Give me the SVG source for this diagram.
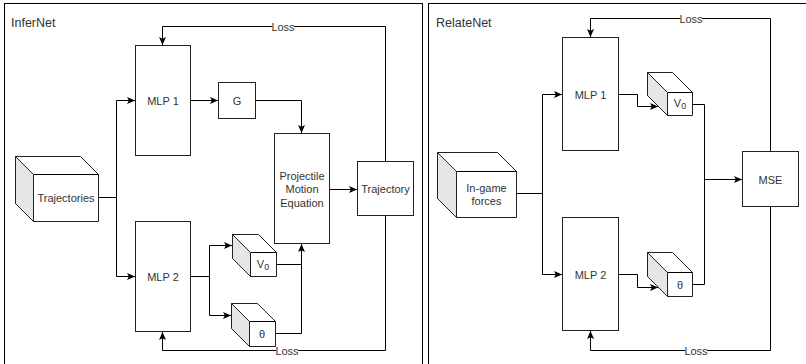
<svg xmlns="http://www.w3.org/2000/svg" width="806" height="364" viewBox="0 0 806 364">
<defs>
<marker id="arr" markerWidth="8" markerHeight="8" viewBox="0 0 8 8" refX="8" refY="4" orient="auto" markerUnits="userSpaceOnUse">
<path d="M0,0.5 L8,4 L0,7.5 L1.8,4 Z" fill="#000"/>
</marker>
<style>
.panel{fill:#fff;stroke:#000;stroke-width:1}
.box{fill:#fff;stroke:#222;stroke-width:1}
.side{fill:#e6e6e6;stroke:#222;stroke-width:1}
.edge{fill:none;stroke:#000;stroke-width:1}
.arrow{marker-end:url(#arr)}
text{font-family:"Liberation Sans",Arial,sans-serif;font-size:11px;fill:#333;text-anchor:middle;dominant-baseline:central}
.title{font-size:12.5px;text-anchor:start}
.lbl{fill:#fff;stroke:none}
</style>
</defs>
<rect width="806" height="364" fill="#fff"/>
<rect id="panel-infernet" class="panel" x="4.5" y="3.5" width="418" height="370"/>
<rect id="panel-relatenet" class="panel" x="428.5" y="3.5" width="380" height="370"/>
<text class="title" x="11" y="23">InferNet</text>
<text class="title" x="436" y="23">RelateNet</text>

<g id="connectors">
<path class="edge arrow" d="M98.5,197.5 H116.5 V100.5 H135"/>
<path class="edge arrow" d="M116.5,197.5 V276.5 H135"/>
<path class="edge arrow" d="M191,100.5 H218"/>
<path class="edge arrow" d="M256,100.5 H301.5 V133"/>
<path class="edge arrow" d="M330,189.5 H357"/>
<path class="edge arrow" d="M191,276.5 H209.5 V245.5 H232"/>
<path class="edge arrow" d="M209.5,276.5 V315.5 H231"/>
<path class="edge arrow" d="M276,264.5 H301.5 V244"/>
<path class="edge" d="M275,333.5 H301.5 V264"/>
<path class="edge arrow" d="M385.5,161 V26.5 H162.5 V45"/>
<path class="edge arrow" d="M385.5,216 V350.5 H162.5 V332"/>
<path class="edge arrow" d="M516,193.5 H542.5 V94.5 H562"/>
<path class="edge arrow" d="M542.5,193.5 V274.5 H562"/>
<path class="edge arrow" d="M619,94.5 H637.5 V106.5 H658"/>
<path class="edge arrow" d="M619,274.5 H637.5 V287.5 H658"/>
<path class="edge arrow" d="M693,104.5 H704.5 V179.5 H742"/>
<path class="edge" d="M693,284.5 H704.5 V179.5"/>
<path class="edge arrow" d="M770.5,151 V18.5 H590.5 V37"/>
<path class="edge arrow" d="M770.5,207 V350.5 H590.5 V331"/>
<rect class="lbl" x="272" y="20" width="22" height="12"/>
<text x="283" y="26.5">Loss</text>
<rect class="lbl" x="276" y="345" width="22" height="12"/>
<text x="287" y="351">Loss</text>
<rect class="lbl" x="680" y="12" width="22" height="12"/>
<text x="691" y="18.5">Loss</text>
<rect class="lbl" x="685" y="344" width="22" height="12"/>
<text x="696" y="350.5">Loss</text>
</g>

<g id="trajectories">
<path class="box" d="M15.5,156.5 H80.5 L98.5,174.5 V221.5 H33.5 L15.5,203.5 Z"/>
<path class="side" d="M15.5,156.5 L33.5,174.5 V221.5 L15.5,203.5 Z"/>
<path class="edge" d="M33.5,174.5 H98.5" stroke="#222"/>
<text x="66" y="198">Trajectories</text>
</g>
<g id="mlp1-infer">
<rect class="box" x="135.5" y="45.5" width="55" height="110"/>
<text x="163" y="100.5">MLP 1</text>
</g>
<g id="g-node">
<rect class="box" x="218.5" y="82.5" width="37" height="36"/>
<text x="237" y="100.5">G</text>
</g>
<g id="pme">
<rect class="box" x="274.5" y="133.5" width="55" height="110"/>
<text x="302" y="175.5">Projectile</text>
<text x="302" y="189">Motion</text>
<text x="302" y="202.5">Equation</text>
</g>
<g id="trajectory">
<rect class="box" x="357.5" y="161.5" width="56" height="54"/>
<text x="385.5" y="189">Trajectory</text>
</g>
<g id="mlp2-infer">
<rect class="box" x="135.5" y="221.5" width="55" height="110"/>
<text x="163" y="276.5">MLP 2</text>
</g>
<g id="v0-infer">
<path class="box" d="M232.5,234.5 H258.5 L276.5,252.5 V276.5 H250.5 L232.5,258.5 Z"/>
<path class="side" d="M232.5,234.5 L250.5,252.5 V276.5 L232.5,258.5 Z"/>
<path class="edge" d="M250.5,252.5 H276.5" stroke="#222"/>
<text x="263" y="263.5">V<tspan font-size="9" dy="3">0</tspan></text>
</g>
<g id="theta-infer">
<path class="box" d="M231.5,303.5 H257.5 L275.5,321.5 V346.5 H249.5 L231.5,328.5 Z"/>
<path class="side" d="M231.5,303.5 L249.5,321.5 V346.5 L231.5,328.5 Z"/>
<path class="edge" d="M249.5,321.5 H275.5" stroke="#222"/>
<text x="262" y="334">θ</text>
</g>

<g id="ingame">
<path class="box" d="M437.5,152.5 H497.5 L516.5,171.5 V217.5 H456.5 L437.5,198.5 Z"/>
<path class="side" d="M437.5,152.5 L456.5,171.5 V217.5 L437.5,198.5 Z"/>
<path class="edge" d="M456.5,171.5 H516.5" stroke="#222"/>
<text x="486.5" y="187.5">In-game</text>
<text x="486.5" y="201">forces</text>
</g>
<g id="mlp1-relate">
<rect class="box" x="562.5" y="37.5" width="56" height="113"/>
<text x="590.5" y="94.5">MLP 1</text>
</g>
<g id="mlp2-relate">
<rect class="box" x="562.5" y="217.5" width="56" height="113"/>
<text x="590.5" y="274.5">MLP 2</text>
</g>
<g id="v0-relate">
<path class="box" d="M647.5,72.5 H672.5 L692.5,92.5 V115.5 H667.5 L647.5,95.5 Z"/>
<path class="side" d="M647.5,72.5 L667.5,92.5 V115.5 L647.5,95.5 Z"/>
<path class="edge" d="M667.5,92.5 H692.5" stroke="#222"/>
<text x="680" y="103">V<tspan font-size="9" dy="3">0</tspan></text>
</g>
<g id="theta-relate">
<path class="box" d="M647.5,252.5 H672.5 L692.5,272.5 V296.5 H667.5 L647.5,276.5 Z"/>
<path class="side" d="M647.5,252.5 L667.5,272.5 V296.5 L647.5,276.5 Z"/>
<path class="edge" d="M667.5,272.5 H692.5" stroke="#222"/>
<text x="680" y="284.5">θ</text>
</g>
<g id="mse">
<rect class="box" x="742.5" y="151.5" width="56" height="55"/>
<text x="770.5" y="179.5">MSE</text>
</g>
</svg>
